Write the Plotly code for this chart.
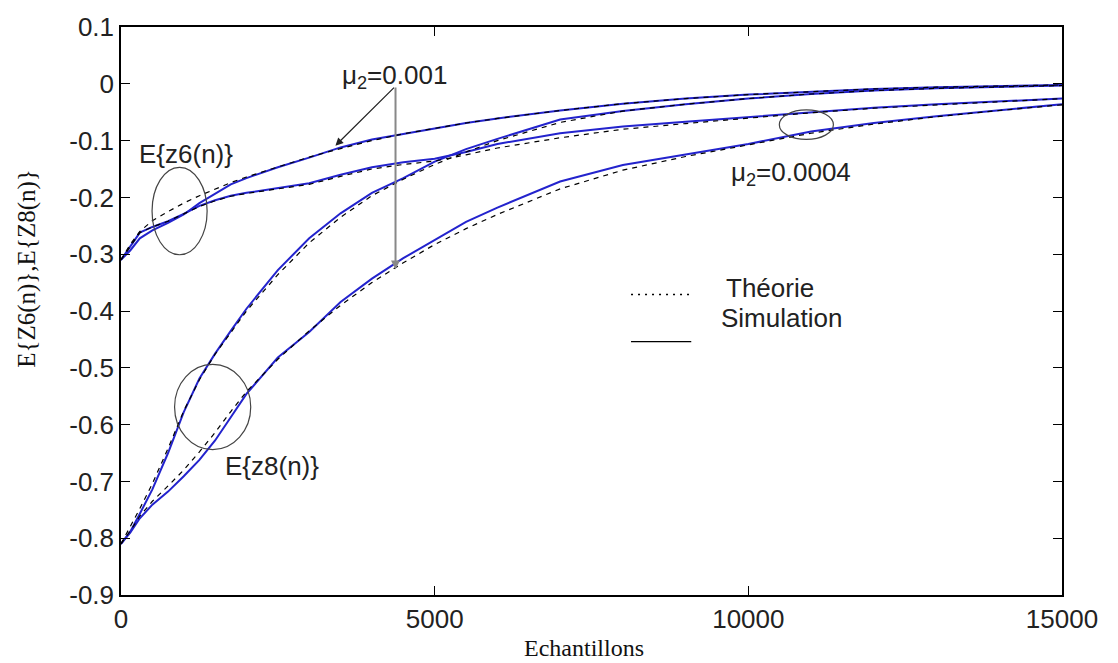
import plotly.graph_objects as go

# ---------------- data ----------------
n_samples = [0, 150, 300, 500, 750, 1000, 1250, 1500, 1750, 2000, 2500, 3000, 3500,
             4000, 4500, 5000, 5500, 6000, 7000, 8000, 9000, 10000, 11000, 12000,
             13000, 14000, 15000]

# E{z6(n)}, mu2 = 0.001
z6_fast_sim = [-0.31, -0.293, -0.272, -0.258, -0.245, -0.230, -0.210, -0.194, -0.177, -0.166,
               -0.147, -0.130, -0.112, -0.098, -0.088, -0.078, -0.069, -0.061, -0.047, -0.035,
               -0.026, -0.019, -0.014, -0.009, -0.006, -0.004, -0.002]
z6_fast_th = [-0.31, -0.282, -0.260, -0.241, -0.225, -0.210, -0.197, -0.185, -0.174, -0.164,
              -0.146, -0.129, -0.114, -0.100, -0.088, -0.078, -0.069, -0.061, -0.047, -0.035,
              -0.026, -0.019, -0.014, -0.009, -0.006, -0.004, -0.002]
# E{z6(n)}, mu2 = 0.0004
z6_slow_sim = [-0.31, -0.285, -0.262, -0.252, -0.242, -0.229, -0.215, -0.205, -0.197, -0.192,
               -0.184, -0.175, -0.160, -0.147, -0.138, -0.132, -0.120, -0.106, -0.087, -0.075,
               -0.067, -0.059, -0.050, -0.042, -0.036, -0.031, -0.026]
z6_slow_th = [-0.31, -0.285, -0.262, -0.252, -0.242, -0.229, -0.216, -0.206, -0.198, -0.193,
              -0.185, -0.177, -0.163, -0.150, -0.142, -0.136, -0.125, -0.113, -0.095, -0.080,
              -0.070, -0.060, -0.051, -0.043, -0.037, -0.031, -0.026]
# E{z8(n)}, mu2 = 0.001
z8_fast_sim = [-0.81, -0.788, -0.757, -0.714, -0.650, -0.578, -0.519, -0.475, -0.435, -0.396,
               -0.328, -0.272, -0.228, -0.192, -0.166, -0.137, -0.115, -0.097, -0.063, -0.048,
               -0.036, -0.026, -0.018, -0.012, -0.008, -0.005, -0.003]
z8_fast_th = [-0.81, -0.780, -0.748, -0.704, -0.642, -0.576, -0.521, -0.476, -0.437, -0.400,
              -0.336, -0.280, -0.235, -0.197, -0.168, -0.142, -0.120, -0.100, -0.068, -0.048,
              -0.036, -0.026, -0.018, -0.012, -0.008, -0.005, -0.003]
# E{z8(n)}, mu2 = 0.0004
z8_slow_sim = [-0.81, -0.790, -0.765, -0.741, -0.718, -0.691, -0.662, -0.628, -0.587, -0.546,
               -0.482, -0.437, -0.384, -0.343, -0.307, -0.275, -0.243, -0.218, -0.172, -0.143,
               -0.124, -0.106, -0.084, -0.069, -0.057, -0.046, -0.036]
z8_slow_th = [-0.81, -0.787, -0.761, -0.735, -0.708, -0.680, -0.648, -0.614, -0.577, -0.542,
              -0.485, -0.435, -0.390, -0.350, -0.315, -0.283, -0.255, -0.230, -0.185, -0.152,
              -0.128, -0.107, -0.087, -0.071, -0.058, -0.047, -0.037]

x_tick_vals = [0, 5000, 10000, 15000]
x_tick_text = ["0", "5000", "10000", "15000"]
y_tick_vals = [0.1, 0, -0.1, -0.2, -0.3, -0.4, -0.5, -0.6, -0.7, -0.8, -0.9]
y_tick_text = ["0.1", "0", "-0.1", "-0.2", "-0.3", "-0.4", "-0.5", "-0.6", "-0.7", "-0.8", "-0.9"]

legend_labels = ["Théorie", "Simulation"]

# ---------------- figure ----------------
SIM_COLOR = "rgb(35,35,205)"
SANS = "Liberation Sans, Arial, sans-serif"
SERIF = "Liberation Serif, Times New Roman, serif"

fig = go.Figure()
for sim in [z6_fast_sim, z6_slow_sim, z8_fast_sim, z8_slow_sim]:
    fig.add_trace(go.Scatter(x=n_samples, y=sim, mode="lines",
                             line=dict(color=SIM_COLOR, width=2), showlegend=False,
                             hoverinfo="skip"))
for th in [z6_fast_th, z6_slow_th, z8_fast_th, z8_slow_th]:
    fig.add_trace(go.Scatter(x=n_samples, y=th, mode="lines",
                             line=dict(color="black", width=1.2, dash="5px,5px"),
                             showlegend=False, hoverinfo="skip"))

# hand-drawn legend inside the plot
fig.add_trace(go.Scatter(x=[8130, 9090], y=[-0.371, -0.371], mode="lines",
                         line=dict(color="black", width=1.5, dash="2px,5px"),
                         showlegend=False, hoverinfo="skip"))
fig.add_trace(go.Scatter(x=[8130, 9090], y=[-0.454, -0.454], mode="lines",
                         line=dict(color="black", width=1.2),
                         showlegend=False, hoverinfo="skip"))

txt_font = dict(family=SANS, size=26, color="#222")
annotations = [
    dict(x=9615, y=-0.360, text=legend_labels[0], xanchor="left", yanchor="middle"),
    dict(x=9535, y=-0.413, text=legend_labels[1], xanchor="left", yanchor="middle"),
    dict(x=1038, y=-0.124, text="E{z6(n)}", xanchor="center", yanchor="middle"),
    dict(x=2411, y=-0.672, text="E{z8(n)}", xanchor="center", yanchor="middle"),
    dict(x=3497, y=0.012, text="μ<sub>2</sub>=0.001", xanchor="left", yanchor="middle"),
    dict(x=9694, y=-0.158, text="μ<sub>2</sub>=0.0004", xanchor="left", yanchor="middle"),
]
for a in annotations:
    a.update(xref="x", yref="y", showarrow=False, font=txt_font)

# arrows from the mu2=0.001 label
annotations.append(dict(x=3418, y=-0.109, ax=4376, ay=-0.004, xref="x", yref="y",
                        axref="x", ayref="y", text="", showarrow=True, arrowhead=2,
                        arrowsize=1.3, arrowwidth=1.2, arrowcolor="#222"))
annotations.append(dict(x=4376, y=-0.327, ax=4376, ay=-0.004, xref="x", yref="y",
                        axref="x", ayref="y", text="", showarrow=True, arrowhead=2,
                        arrowsize=0.9, arrowwidth=2, arrowcolor="#888"))

# axis titles
annotations.append(dict(xref="paper", yref="paper", x=-0.0999, y=0.576,
                        text="E{Z6(n)},E{Z8(n)}", textangle=-90, showarrow=False,
                        xanchor="center", yanchor="middle",
                        font=dict(family=SERIF, size=25, color="#111")))
annotations.append(dict(xref="paper", yref="paper", x=0.492, y=-0.094,
                        text="Echantillons", showarrow=False,
                        xanchor="center", yanchor="middle",
                        font=dict(family=SERIF, size=24, color="#111")))

shapes = [
    dict(type="circle", xref="x", yref="y", x0=495, x1=1373, y0=-0.301, y1=-0.147,
         line=dict(color="#444", width=1.2)),
    dict(type="circle", xref="x", yref="y", x0=854, x1=2068, y0=-0.644, y1=-0.494,
         line=dict(color="#444", width=1.2)),
    dict(type="circle", xref="x", yref="y", x0=10494, x1=11356, y0=-0.098, y1=-0.046,
         line=dict(color="#444", width=1.2)),
]

fig.update_layout(
    width=1118, height=663,
    margin=dict(l=121, r=56, t=24, b=68),
    paper_bgcolor="white", plot_bgcolor="white",
    annotations=annotations, shapes=shapes,
    showlegend=False,
    font=dict(family=SANS, size=26, color="#222"),
)
fig.update_xaxes(range=[0, 15000], tickvals=x_tick_vals, ticktext=x_tick_text,
                 ticks="inside", ticklen=9, tickwidth=1.2, tickcolor="black",
                 showline=True, linecolor="black", linewidth=1.5, mirror="ticks",
                 showgrid=False, zeroline=False,
                 tickfont=dict(family=SANS, size=26, color="#222"))
fig.update_yaxes(range=[-0.9, 0.1], tickvals=y_tick_vals, ticktext=y_tick_text,
                 ticks="inside", ticklen=9, tickwidth=1.2, tickcolor="black",
                 showline=True, linecolor="black", linewidth=1.5, mirror="ticks",
                 showgrid=False, zeroline=False,
                 tickfont=dict(family=SANS, size=26, color="#222"))

fig.write_html("out.html")
